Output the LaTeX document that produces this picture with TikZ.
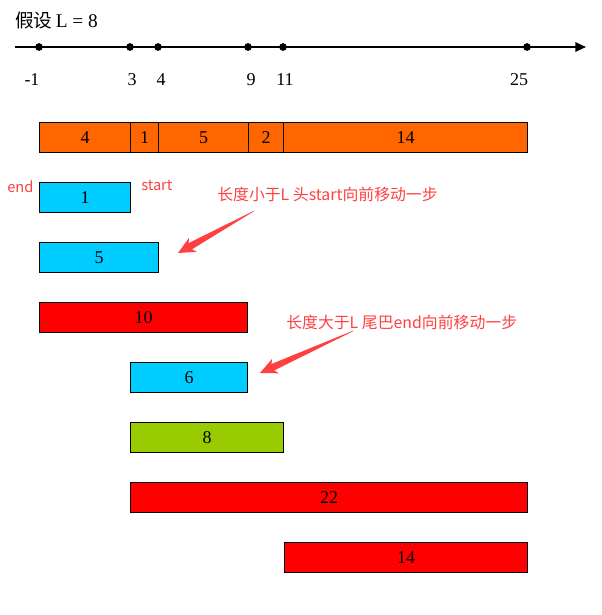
\documentclass[tikz,border=0pt]{standalone}
\usepackage{fontspec}
\setmainfont{Liberation Serif}
\newfontfamily\cjk{Noto Sans CJK SC}
\usetikzlibrary{arrows.meta}
\definecolor{barorange}{RGB}{255,102,0}
\definecolor{barcyan}{RGB}{0,204,255}
\definecolor{barred}{RGB}{255,0,0}
\definecolor{bargreen}{RGB}{153,204,0}
\definecolor{notered}{RGB}{255,64,64}
\tikzset{
  bar/.style={draw=black, line width=0.75pt, anchor=north west, inner sep=0pt, minimum height=22.5pt, font=\fontsize{13.5}{15}\selectfont},
  seg/.style={draw=black, line width=0.75pt, anchor=north west, inner sep=0pt, minimum height=22.5pt, fill=barorange, font=\fontsize{13.5}{15}\selectfont},
  num/.style={font=\fontsize{13.5}{15}\selectfont, inner sep=0pt},
  dot/.style={circle, fill=black, inner sep=0pt, minimum size=5.8pt},
  note/.style={text=notered, font=\cjk\fontsize{11.9}{13}\selectfont, inner sep=0pt, anchor=west},
  tag/.style={text=notered, font=\cjk\fontsize{11}{13}\selectfont, inner sep=0pt, anchor=west},
  tarrow/.style={fill=notered, draw=none}
}
\begin{document}
\begin{tikzpicture}[x=0.75pt,y=-0.75pt]
\useasboundingbox (0,0) rectangle (601,615);
% title
\node[anchor=west, inner sep=0pt] (title) at (15,20) {{\cjk\fontsize{14}{16}\selectfont 假设}\fontsize{14.5}{16}\selectfont\,L = 8};
% axis
\coordinate (axL) at (15,47);
\coordinate (axR) at (586,47);
\draw[line width=1.5pt, -{Triangle[length=8pt,width=7pt]}] (axL) -- (axR);
\node[dot] (d1) at (39,47) {};
\node[dot] (d2) at (130,47) {};
\node[dot] (d3) at (158,47) {};
\node[dot] (d4) at (248,47) {};
\node[dot] (d5) at (283,47) {};
\node[dot] (d6) at (527,47) {};
\node[num] (l1) at (32,80) {-1};
\node[num] (l2) at (132,80) {3};
\node[num] (l3) at (161,80) {4};
\node[num] (l4) at (251,80) {9};
\node[num] (l5) at (285,80) {11};
\node[num] (l6) at (519,80) {25};
% segmented bar
\node[seg, minimum width=68.25pt] (s1) at (39,122) {4};
\node[seg, minimum width=21pt] (s2) at (130,122) {1};
\node[seg, minimum width=67.5pt] (s3) at (158,122) {5};
\node[seg, minimum width=26.25pt] (s4) at (248,122) {2};
\node[seg, minimum width=183pt] (s5) at (283,122) {14};
% bars
\node[bar, fill=barcyan, minimum width=68.25pt] (b1) at (39,182) {1};
\node[bar, fill=barcyan, minimum width=89.25pt] (b2) at (39,242) {5};
\node[bar, fill=barred, minimum width=156pt] (b3) at (39,302) {10};
\node[bar, fill=barcyan, minimum width=87.75pt] (b4) at (130,362) {6};
\node[bar, fill=bargreen, minimum width=114.75pt] (b5) at (130,422) {8};
\node[bar, fill=barred, minimum width=297.75pt] (b6) at (130,482) {22};
\node[bar, fill=barred, minimum width=182.25pt] (b7) at (284,542) {14};
% labels
\node[tag] (endl) at (7,187) {end};
\node[tag] (startl) at (141,185) {start};
\node[note] (n1) at (217,194) {长度小于L 头start向前移动一步};
\node[note] (n2) at (286,322) {长度大于L 尾巴end向前移动一步};
% tapered arrows
\coordinate (t1) at (254,211);
\coordinate (p1) at (178,253);
\fill[tarrow] (254.3,210.6) -- (188.6,243.1) -- (189.0,237.8) -- (p1) -- (196.8,251.8) -- (192.0,249.3) -- (253.7,211.4) -- cycle;
\coordinate (t2) at (353,331);
\coordinate (p2) at (260,373);
\fill[tarrow] (353.2,330.6) -- (271.4,364.0) -- (272.2,358.7) -- (p2) -- (278.8,373.3) -- (274.2,370.4) -- (352.8,331.4) -- cycle;
\end{tikzpicture}
\end{document}
